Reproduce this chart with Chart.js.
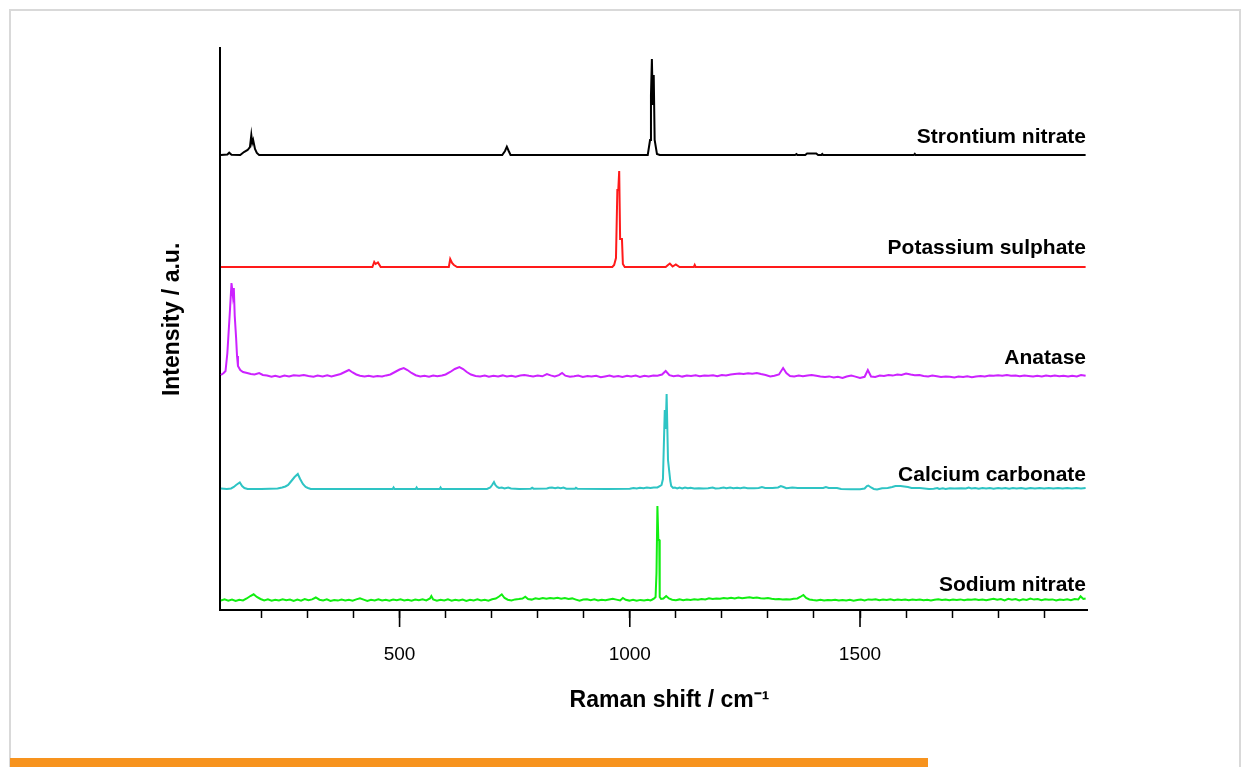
<!DOCTYPE html>
<html>
<head>
<meta charset="utf-8">
<script src="https://cdn.jsdelivr.net/npm/chart.js@4.4.0/dist/chart.umd.min.js"></script>
<style>
  html, body { margin: 0; padding: 0; background: #ffffff; }
  #frame { position: absolute; left: 9px; top: 9px; width: 1232px; height: 770px; border: 2px solid #d9d9d9; box-sizing: border-box; }
  #bar { position: absolute; left: 10px; top: 758px; width: 918px; height: 9px; background: #f7931e; }
  #wrap { position: absolute; left: 0; top: 0; width: 1250px; height: 767px; }
</style>
</head>
<body>
<div id="frame"></div>
<div id="wrap"><canvas id="c" width="1250" height="767"></canvas></div>
<div id="bar"></div>
<script>
// ---------- DATA (wavenumber cm-1, intensity above own baseline, a.u.) ----------
const seriesNames = ["Strontium nitrate", "Potassium sulphate", "Anatase", "Calcium carbonate", "Sodium nitrate"];
const baselines = [455, 343, 234, 121, 10];

const strontium = [
  [112,0],[126,0.5],[130,2.3],[135,0.3],[154,0],[162,3],[170,5],[175,8],[178,20],[180,12],[182,15],[186,6],[190,2],[195,0],
  [723,0],[729,4],[733,8.3],[737,4],[741,0],
  [1039,0],[1044,15],[1046,60],[1048,96],[1050,50],[1052,80],[1054,15],[1059,1],[1065,0],
  [1359,0],[1362,1],[1364,0],[1381,0],[1385,1.5],[1405,1.5],[1409,0],[1416,0],[1418,1],[1420,0],
  [1617,0],[1619,1.2],[1621,0],[1990,0]
];

const potassium = [
  [112,0],[441,0],[445,5],[448,3],[453,4.5],[459,0],
  [607,0],[610,8],[614,4],[618,2],[625,0],
  [962,0],[966,2],[970,9],[973,77],[975,77],[977,96],[979,28],[983,28],[985,3],[989,0],
  [1078,0],[1083,2],[1087,3.5],[1093,0.5],[1100,2.5],[1108,0],[1139,0],[1141,2],[1143,0],[1990,0]
];

const anatase = [
  [112,1],[118,3],[122,5],[126,23],[131,61],[135,93],[138,80],[140,88],[142,60],[145,38],[147,20],[149,10],[154,6],[160,4],
  [169,3],[177,2],[185,1.5],[195,3],[203,1],[212,0.5],[222,-0.8],[230,0.3],[240,-1],[250,0.5],[260,-0.5],[270,0.8],
  [282,0.2],[292,1],[302,0],[313,-0.7],[322,0.4],[333,-0.5],[343,0.6],[352,-0.4],[362,0.8],[372,2],[381,4],[390,6],
  [398,3.5],[406,1.5],[414,0.2],[424,-0.6],[433,0.3],[443,-0.8],[452,0],[462,-0.5],[471,0.6],[480,1.5],[490,4],[500,6.5],
  [509,8],[517,6],[526,3],[535,0.8],[545,-0.5],[554,0.2],[564,-0.7],[573,0.4],[582,-0.3],[592,0.5],[600,1.5],[610,4],
  [620,7],[630,9],[638,7],[646,4],[655,1.5],[665,0],[675,-0.6],[685,0.4],[694,-0.8],[704,0.2],[714,-0.4],[724,0.6],
  [733,-0.5],[743,0.3],[752,-0.7],[762,0.5],[771,1],[781,0.2],[790,-0.4],[800,0.5],[810,-0.3],[820,2],[828,0.6],[837,-0.5],
  [846,0.8],[853,3],[860,0.3],[870,-0.8],[879,-0.2],[888,0.5],[898,-1],[908,0],[917,-0.6],[927,0.3],[937,-1.2],[946,-0.4],
  [956,0.5],[965,-0.8],[975,0],[984,-1],[994,0.2],[1003,-0.6],[1013,0.4],[1022,-0.9],[1032,0.3],[1041,-0.4],[1051,0.6],
  [1060,0.2],[1070,1.5],[1078,5],[1086,0.8],[1095,-0.2],[1105,0.5],[1114,-0.6],[1124,0.4],[1133,0],[1143,0.8],[1152,-0.3],
  [1162,0.6],[1171,0.2],[1181,0.8],[1190,-0.2],[1200,1],[1209,0.5],[1219,1.5],[1228,2],[1238,2.5],[1247,2],[1257,2.8],
  [1266,2.2],[1276,3],[1285,2],[1295,1],[1305,-0.5],[1314,0.2],[1324,1.5],[1333,8],[1340,3],[1348,0],[1357,-0.6],[1367,0.4],
  [1376,-0.3],[1386,0.5],[1395,1],[1405,0.3],[1414,-0.5],[1424,-1],[1433,-0.4],[1443,-1.5],[1452,-0.8],[1462,-2],[1471,-0.5],
  [1481,0.5],[1490,-0.6],[1500,-2],[1510,-0.8],[1517,6],[1524,-0.5],[1533,-1],[1543,0.5],[1552,0],[1562,1],[1571,0.4],
  [1581,1.5],[1590,1],[1600,2.5],[1610,1.5],[1619,0.8],[1629,1],[1638,0],[1648,-0.5],[1657,0.4],[1667,-0.2],[1676,-1],
  [1686,-0.4],[1695,-0.8],[1705,-1.5],[1714,-0.6],[1724,-1],[1733,-0.3],[1743,-1.2],[1752,-0.5],[1762,0],[1771,-0.4],
  [1781,0.5],[1790,0.2],[1800,0.8],[1809,0.3],[1819,1],[1828,0.2],[1838,0.6],[1847,-0.3],[1857,0.5],[1866,0],[1876,-0.6],
  [1885,0.2],[1895,-0.5],[1904,0.4],[1914,-0.3],[1923,0.5],[1933,-0.2],[1942,0.3],[1952,-0.6],[1961,0.2],[1971,-0.4],
  [1980,1],[1990,0.2]
];

const calcium = [
  [112,0.5],[125,0],[134,0.5],[140,2],[145,4],[153,6.5],[158,3],[163,1],[170,0],[200,0],[235,0.5],[245,1.5],[252,2.5],
  [258,4],[265,8],[272,12],[279,15],[284,10],[290,5],[296,2],[301,1],[307,0],[485,0],[487,1.5],[489,0],[535,0],[537,1.5],
  [539,0],[587,0],[589,1.5],[591,0],[690,0],[697,1.5],[701,4],[705,7],[708,4],[712,2],[716,1],[722,1.5],[728,0.5],[736,1.5],
  [742,0.5],[760,0],[785,0.3],[788,1.2],[791,0.3],[820,0.5],[825,1.2],[831,1.5],[838,0.8],[844,1.5],[850,0.8],[856,1.5],
  [862,0.3],[881,0.3],[883,1.2],[886,0.3],[950,0],[1000,0.2],[1008,1],[1015,0.5],[1022,1.2],[1030,0.8],[1037,1.5],[1045,1],
  [1052,1.5],[1060,1.5],[1066,3],[1069,4],[1072,10],[1076,79],[1078,60],[1080,95],[1083,29],[1085,29],[1088,8],[1090,3],
  [1094,1],[1098,1.5],[1103,0.5],[1108,1.5],[1114,0.5],[1120,1.5],[1126,0.8],[1132,1.2],[1140,0.5],[1150,0.8],[1160,0.5],
  [1170,0.8],[1180,1.5],[1186,0.5],[1195,0.8],[1204,1.5],[1210,0.8],[1218,1.5],[1225,0.8],[1233,1.2],[1240,0.8],[1248,1.5],
  [1256,0.8],[1270,0.8],[1280,1],[1287,2],[1294,1],[1310,1],[1322,1.5],[1328,3],[1334,2],[1340,0.8],[1353,1.5],[1365,1],
  [1380,1],[1400,1],[1420,1],[1426,2],[1432,1],[1450,1],[1459,0],[1480,-0.3],[1500,-0.3],[1510,0.5],[1515,3],[1518,3.5],
  [1524,1.5],[1530,0],[1537,-0.5],[1548,0.8],[1560,1],[1570,2],[1577,3],[1588,3],[1596,2.5],[1604,2],[1612,1],[1630,1],
  [1650,0],[1660,0.3],[1668,1],[1672,0],[1680,0.8],[1686,0],[1695,0.8],[1705,0.5],[1720,0.8],[1730,0.5],[1736,1.5],
  [1742,0.5],[1750,1],[1758,0.3],[1766,1],[1774,0.4],[1782,1],[1790,0.3],[1800,1],[1808,0.4],[1816,1],[1824,0.3],[1832,1],
  [1840,0.4],[1850,1],[1860,0.3],[1870,1],[1880,0.4],[1890,1],[1900,0.4],[1910,1],[1920,0.5],[1930,1],[1940,0.4],[1950,1],
  [1960,0.5],[1970,1],[1980,0.5],[1990,1]
];

const sodium = [
  [112,-0.5],[120,0.8],[128,-0.6],[136,0.5],[144,-1],[152,0.3],[160,-0.4],[168,1.5],[176,4],[183,5.7],[190,3],[198,1],
  [206,-0.5],[214,0.6],[222,-0.8],[230,0.2],[238,-0.5],[246,0.8],[254,-0.3],[262,0.5],[270,-1],[278,0.4],[286,-0.6],
  [294,1],[302,-0.2],[310,0.6],[318,2.5],[326,0.3],[334,-0.4],[342,0.7],[350,-0.9],[358,0],[366,-0.6],[374,0.5],[382,-0.4],
  [390,0.2],[398,-0.7],[406,0.6],[414,1.7],[422,0.4],[430,-0.9],[438,0.3],[446,-0.4],[454,0.8],[462,-0.5],[470,0.3],
  [478,-0.8],[486,0.5],[494,-0.2],[502,0.7],[510,-0.5],[518,0.2],[526,-0.8],[534,0.4],[542,-0.3],[550,0.6],[558,-0.4],
  [566,1.5],[569,4],[573,0.5],[581,-0.8],[589,0.2],[597,-0.5],[605,0.6],[613,-0.7],[621,0.3],[629,-0.4],[637,0.5],
  [645,-0.9],[653,0.2],[661,-0.4],[669,0.7],[677,-0.5],[685,0.3],[693,-0.6],[701,0.8],[709,1.5],[716,3.5],[722,5.7],
  [728,2],[735,0.3],[743,-0.5],[751,0.6],[759,1],[767,1.5],[773,3.3],[779,1],[787,0.4],[795,1.8],[803,1],[811,2],[819,1.2],
  [827,2],[835,1.4],[843,2.2],[851,1.2],[859,2],[867,1],[875,1.6],[883,0.4],[891,-0.8],[899,0.5],[907,0.8],[915,-0.3],
  [923,0.6],[931,-0.5],[939,0.3],[947,-0.2],[955,0.6],[963,1.2],[971,0.4],[979,-0.5],[985,2],[991,0.2],[999,-0.6],
  [1007,0.3],[1015,-0.8],[1023,0.1],[1031,-0.5],[1039,0.3],[1045,-0.4],[1049,0.5],[1053,1.5],[1056,3],[1058,27],[1059,27],
  [1060,94],[1062,60],[1064,60],[1065,3],[1068,1],[1073,1.5],[1079,4],[1085,1.5],[1092,0.3],[1100,-0.2],[1108,0.6],
  [1116,-0.3],[1124,0.5],[1132,0.1],[1140,0.8],[1148,0.3],[1156,1],[1164,0.5],[1172,1.8],[1180,1],[1188,1.6],[1196,1.2],
  [1204,2],[1212,1.4],[1220,2.2],[1228,1.5],[1236,2.5],[1244,1.8],[1252,2.3],[1260,2.8],[1268,2],[1276,2.6],[1284,1.8],
  [1292,1.5],[1300,2],[1308,1.2],[1316,0.8],[1324,1],[1332,0.4],[1340,0.8],[1348,0.5],[1356,1.2],[1364,1.5],[1370,3],
  [1377,5],[1383,2],[1390,0.5],[1398,0],[1406,-0.4],[1414,0.2],[1422,-0.6],[1430,0],[1438,-0.3],[1446,0.3],[1454,-0.5],
  [1462,0.1],[1470,-0.4],[1478,0.2],[1486,-0.8],[1494,0],[1502,0.5],[1510,-0.4],[1518,0.6],[1526,0.2],[1534,0.8],
  [1542,-0.2],[1550,0.5],[1558,0],[1566,0.7],[1574,-0.3],[1582,0.4],[1590,0.1],[1598,0.6],[1606,-0.2],[1614,0.5],[1622,0],
  [1630,0.4],[1638,-0.3],[1646,0.2],[1654,-0.4],[1662,0.3],[1670,0.8],[1678,0],[1686,0.5],[1694,-0.2],[1702,0.4],[1710,0.1],
  [1718,0.6],[1726,-0.3],[1734,0.5],[1742,0.2],[1750,0.7],[1758,0],[1766,0.5],[1774,-0.2],[1782,0.6],[1790,1.2],[1798,0.2],
  [1806,1],[1814,-0.4],[1822,1.2],[1830,0.3],[1838,1],[1846,-0.5],[1854,0.8],[1862,0],[1870,1.4],[1878,0.4],[1886,1],
  [1894,-0.3],[1902,0.8],[1910,0.2],[1918,0.6],[1926,-0.4],[1934,0.5],[1942,0],[1950,0.8],[1958,-0.2],[1966,1],[1974,0.5],
  [1979,3.7],[1985,1],[1990,1.5]
];

const tickValues = [200, 300, 400, 500, 600, 700, 800, 900, 1000, 1100, 1200, 1300, 1400, 1500, 1600, 1700, 1800, 1900];
const labeledTicks = [500, 1000, 1500];
const xRange = [110, 1993];
const yRange = [0, 562];

// ---------- STYLE ----------
const seriesData = [strontium, potassium, anatase, calcium, sodium];
const colors = ['#000000', '#ff1a1a', '#cc22ff', '#2ec4c4', '#11ee11'];
const labelGaps = [12, 13.5, 12.5, 8, 9.5];

const datasets = seriesData.map((arr, i) => ({
  label: seriesNames[i],
  data: arr.map(p => ({ x: p[0], y: baselines[i] + p[1] })),
  showLine: true,
  borderColor: colors[i],
  backgroundColor: colors[i],
  borderWidth: 2,
  pointRadius: 0,
  tension: 0,
  fill: false
}));

const labelPlugin = {
  id: 'seriesLabels',
  afterDatasetsDraw(chart) {
    const ctx = chart.ctx;
    const xs = chart.scales.x, ys = chart.scales.y;
    ctx.save();
    ctx.font = 'bold 21px "Liberation Sans", Arial, sans-serif';
    ctx.fillStyle = '#000';
    ctx.textAlign = 'right';
    ctx.textBaseline = 'alphabetic';
    seriesNames.forEach((name, i) => {
      const y = ys.getPixelForValue(baselines[i]) - labelGaps[i];
      ctx.fillText(name, xs.right - 1, y);
    });
    ctx.restore();
  }
};

const majorTickPlugin = {
  id: 'majorTicks',
  afterDraw(chart) {
    const ctx = chart.ctx;
    const xs = chart.scales.x;
    ctx.save();
    ctx.strokeStyle = '#000';
    ctx.lineWidth = 1.6;
    labeledTicks.forEach(v => {
      const x = xs.getPixelForValue(v);
      ctx.beginPath();
      ctx.moveTo(x, xs.top);
      ctx.lineTo(x, xs.top + 17);
      ctx.stroke();
    });
    ctx.restore();
  }
};

new Chart(document.getElementById('c'), {
  type: 'scatter',
  data: { datasets },
  plugins: [labelPlugin, majorTickPlugin],
  options: {
    responsive: false,
    animation: false,
    devicePixelRatio: 1,
    layout: { padding: { left: 155, top: 48, right: 163, bottom: 49 } },
    plugins: { legend: { display: false }, tooltip: { enabled: false } },
    scales: {
      x: {
        type: 'linear',
        position: 'bottom',
        min: xRange[0],
        max: xRange[1],
        afterBuildTicks: (scale) => { scale.ticks = tickValues.map(v => ({ value: v })); },
        afterFit: (scale) => { scale.height = 108; },
        grid: { display: true, drawOnChartArea: false, drawTicks: true, tickLength: 8, tickColor: '#000', tickWidth: 1.5 },
        border: { display: true, color: '#000', width: 2 },
        ticks: {
          autoSkip: false,
          maxRotation: 0,
          padding: 25,
          color: '#000',
          font: { family: '"Liberation Sans", Arial, sans-serif', size: 19 },
          callback: (v) => labeledTicks.includes(v) ? String(v) : ''
        },
        title: {
          display: true,
          text: '     Raman shift / cm\u207B\u00B9',
          color: '#000',
          font: { family: '"Liberation Sans", Arial, sans-serif', size: 23, weight: 'bold' }
        }
      },
      y: {
        type: 'linear',
        min: yRange[0],
        max: yRange[1],
        afterFit: (scale) => { scale.width = 65; },
        grid: { display: false },
        border: { display: true, color: '#000', width: 2 },
        ticks: { display: false },
        title: {
          display: true,
          text: '   Intensity / a.u.',
          color: '#000',
          font: { family: '"Liberation Sans", Arial, sans-serif', size: 23, weight: 'bold' }
        }
      }
    }
  }
});
</script>
</body>
</html>
